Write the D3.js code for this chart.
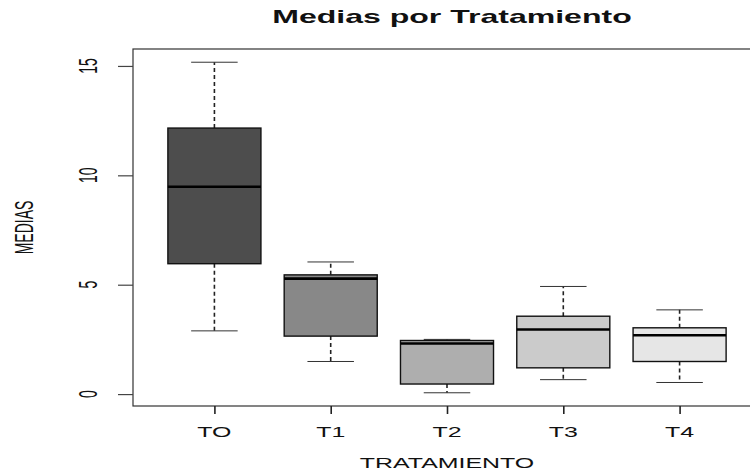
<!DOCTYPE html>
<html>
<head>
<meta charset="utf-8">
<script src="https://cdn.jsdelivr.net/npm/d3@7/dist/d3.min.js"></script>
<style>
  html, body { margin: 0; padding: 0; background: #fff; }
  svg { display: block; }
  text { font-family: "Liberation Sans", Arial, sans-serif; fill: #111; }
</style>
</head>
<body>
<svg id="chart" width="750" height="476"></svg>
<script>
// Five-number summaries per treatment
const categories = ["TO", "T1", "T2", "T3", "T4"];
const whiskerLow  = [2.89, 1.49, 0.06, 0.66, 0.53];
const quartile1   = [5.96, 2.65, 0.46, 1.20, 1.49];
const medians     = [9.48, 5.28, 2.31, 2.95, 2.69];
const quartile3   = [12.16, 5.45, 2.45, 3.56, 3.03];
const whiskerHigh = [15.17, 6.04, 2.50, 4.92, 3.85];
const fills = ["#4D4D4D", "#888888", "#AEAEAE", "#CBCBCB", "#E6E6E6"];
const yTicks = [0, 5, 10, 15];

const title = "Medias por Tratamiento";
const xTitle = "TRATAMIENTO";
const yTitle = "MEDIAS";

// Text in this figure is drawn wide; glyphs are stretched horizontally
const SX = 1.78;

const svg = d3.select("#chart");
const plot = { left: 133, right: 761, top: 49, bottom: 406 };

const x = d3.scaleLinear().domain([0.3, 5.7]).range([plot.left, plot.right]);
const lo = d3.min(whiskerLow), hi = d3.max(whiskerHigh);
const pad = (hi - lo) * 0.04;
const y = d3.scaleLinear().domain([lo - pad, hi + pad]).range([plot.bottom, plot.top]);

const boxHalf = 0.4, capHalf = 0.2;

const data = categories.map((c, i) => ({
  c, i: i + 1,
  lo: whiskerLow[i], q1: quartile1[i], med: medians[i], q3: quartile3[i], hi: whiskerHigh[i],
  fill: fills[i]
}));

const g = svg.append("g");

// Boxes
const box = g.selectAll("g.box").data(data).join("g").attr("class", "box");

// dashed whiskers
box.append("line")
  .attr("x1", d => x(d.i)).attr("x2", d => x(d.i))
  .attr("y1", d => y(d.q3)).attr("y2", d => y(d.hi))
  .attr("stroke", "#222").attr("stroke-width", 1.6).attr("stroke-dasharray", "4,3");
box.append("line")
  .attr("x1", d => x(d.i)).attr("x2", d => x(d.i))
  .attr("y1", d => y(d.q1)).attr("y2", d => y(d.lo))
  .attr("stroke", "#222").attr("stroke-width", 1.6).attr("stroke-dasharray", "4,3");
// whisker caps
box.append("line")
  .attr("x1", d => x(d.i - capHalf)).attr("x2", d => x(d.i + capHalf))
  .attr("y1", d => y(d.hi)).attr("y2", d => y(d.hi))
  .attr("stroke", "#333").attr("stroke-width", 1);
box.append("line")
  .attr("x1", d => x(d.i - capHalf)).attr("x2", d => x(d.i + capHalf))
  .attr("y1", d => y(d.lo)).attr("y2", d => y(d.lo))
  .attr("stroke", "#333").attr("stroke-width", 1);
// interquartile box
box.append("rect")
  .attr("x", d => x(d.i - boxHalf))
  .attr("width", d => x(d.i + boxHalf) - x(d.i - boxHalf))
  .attr("y", d => y(d.q3))
  .attr("height", d => y(d.q1) - y(d.q3))
  .attr("fill", d => d.fill)
  .attr("stroke", "#111").attr("stroke-width", 1.4);
// median
box.append("line")
  .attr("x1", d => x(d.i - boxHalf)).attr("x2", d => x(d.i + boxHalf))
  .attr("y1", d => y(d.med)).attr("y2", d => y(d.med))
  .attr("stroke", "#000").attr("stroke-width", 2.6);

// Frame
g.append("rect")
  .attr("x", plot.left).attr("y", plot.top)
  .attr("width", plot.right - plot.left).attr("height", plot.bottom - plot.top)
  .attr("fill", "none").attr("stroke", "#333").attr("stroke-width", 1.2);

// X axis
const xAxis = d3.axisBottom(x)
  .tickValues(categories.map((c, i) => i + 1))
  .tickSize(8).tickPadding(0).tickFormat("");
const xa = svg.append("g").attr("transform", `translate(0,${plot.bottom})`).call(xAxis);
xa.select(".domain").remove();
xa.selectAll(".tick line").attr("stroke", "#222").attr("stroke-width", 1.6);

svg.append("g").selectAll("text").data(categories).join("text")
  .attr("transform", (c, i) => `translate(${x(i + 1)},437) scale(${SX},1)`)
  .attr("text-anchor", "middle")
  .style("font-size", "14px")
  .text(c => c);

// Y axis
const yAxis = d3.axisLeft(y).tickValues(yTicks).tickSize(15).tickFormat("");
const ya = svg.append("g").attr("transform", `translate(${plot.left},0)`).call(yAxis);
ya.select(".domain").remove();
ya.selectAll(".tick line").attr("stroke", "#444").attr("stroke-width", 1.2);

svg.append("g").selectAll("text").data(yTicks).join("text")
  .attr("transform", v => `translate(97,${y(v)}) scale(${SX},1) rotate(-90)`)
  .attr("text-anchor", "middle")
  .style("font-size", "14px")
  .text(v => v);

// Titles
svg.append("text")
  .attr("transform", `translate(452,23) scale(${SX},1)`)
  .attr("text-anchor", "middle")
  .style("font-size", "18px").style("font-weight", "bold")
  .text(title);

svg.append("text")
  .attr("transform", `translate(447,468) scale(${SX},1)`)
  .attr("text-anchor", "middle")
  .style("font-size", "14px")
  .text(xTitle);

svg.append("text")
  .attr("transform", `translate(33,${(plot.top + plot.bottom) / 2}) scale(${SX},1) rotate(-90)`)
  .attr("text-anchor", "middle")
  .style("font-size", "14px")
  .text(yTitle);
</script>
</body>
</html>
